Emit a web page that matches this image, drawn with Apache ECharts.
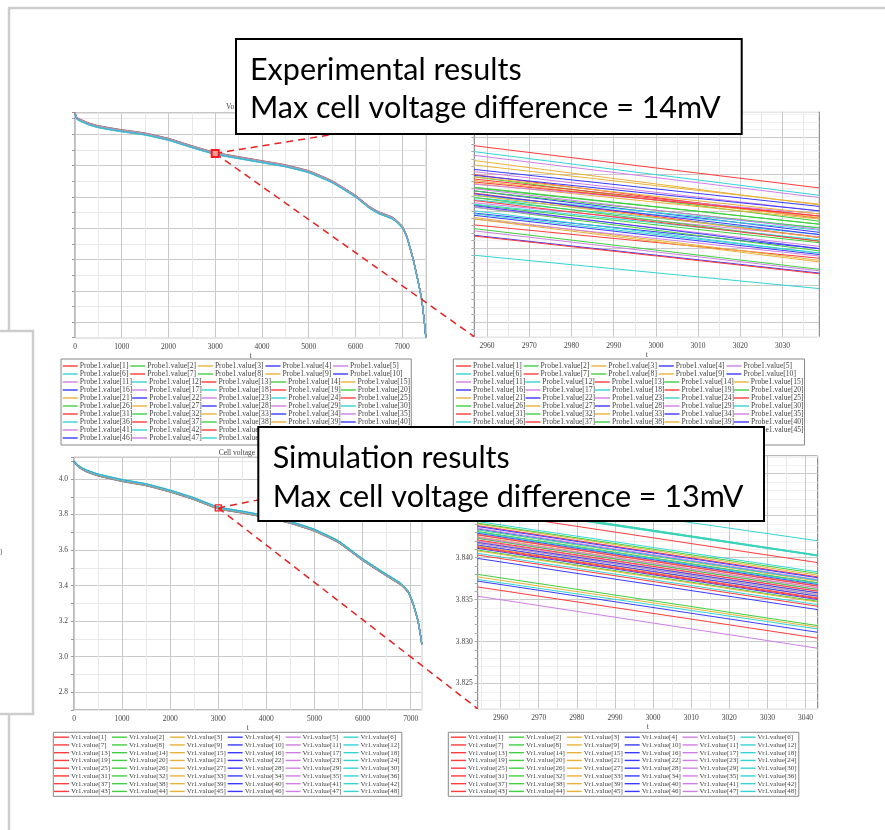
<!DOCTYPE html>
<html>
<head>
<meta charset="utf-8">
<script src="https://cdn.jsdelivr.net/npm/echarts@6/dist/echarts.min.js"></script>
<style>
  html, body { margin: 0; padding: 0; background: #fff; }
  #chart { width: 885px; height: 830px; }
</style>
</head>
<body>
<div id="chart"></div>
<script>
// ---- data ----
// experimental, whole discharge (t in s, cell voltage in V)
const expT = [0, 40, 150, 300, 500, 1000, 1500, 2000, 2500, 3000, 3500, 4000, 4500, 5000, 5500, 6000, 6300, 6500, 6800, 7000, 7100, 7240, 7350, 7420, 7470, 7505];
const expV = [4.134, 4.102, 4.085, 4.066, 4.049, 4.023, 4.002, 3.968, 3.921, 3.878, 3.851, 3.825, 3.799, 3.761, 3.697, 3.605, 3.533, 3.499, 3.463, 3.409, 3.345, 3.196, 3.047, 2.941, 2.813, 2.706];

// simulation, whole discharge
const simT = [0, 100, 250, 500, 1000, 1500, 2000, 2500, 3000, 3500, 4000, 4500, 5000, 5500, 6000, 6500, 6800, 6950, 7050, 7150, 7200, 7230];
const simV = [4.098, 4.070, 4.047, 4.023, 3.992, 3.968, 3.932, 3.889, 3.837, 3.814, 3.788, 3.756, 3.712, 3.647, 3.547, 3.459, 3.408, 3.365, 3.299, 3.205, 3.130, 3.073];

// zoom windows around t = 3000 s: value of each cell at left and right edge
const expZoomT = [2957, 3038.7];
const expZoomStart = [
  3.8888, 3.8846, 3.8868, 3.8856, 3.8875, 3.8880,
  3.8843, 3.8831, 3.8862, 3.8827, 3.8853, 3.8818,
  3.8849, 3.8808, 3.8841, 3.8797, 3.8811, 3.8821,
  3.8824, 3.8805, 3.8837, 3.8794, 3.8836, 3.8815,
  3.8781, 3.8818, 3.8791, 3.8767, 3.8789, 3.8809,
  3.8766, 3.8776, 3.8789, 3.8823, 3.8773, 3.8740,
  3.8839, 3.8827, 3.8821, 3.8848, 3.8805, 3.8800,
  3.8814, 3.8832, 3.8846, 3.8807, 3.8830, 3.8796
];
const expZoomEnd = [
  3.8831, 3.8786, 3.8808, 3.8806, 3.8818, 3.8821,
  3.8793, 3.8782, 3.8809, 3.8771, 3.8800, 3.8774,
  3.8790, 3.8757, 3.8791, 3.8749, 3.8765, 3.8777,
  3.8764, 3.8746, 3.8789, 3.8741, 3.8796, 3.8768,
  3.8736, 3.8759, 3.8733, 3.8716, 3.8739, 3.8761,
  3.8715, 3.8721, 3.8731, 3.8768, 3.8719, 3.8695,
  3.8793, 3.8777, 3.8764, 3.8800, 3.8752, 3.8743,
  3.8759, 3.8782, 3.8796, 3.8749, 3.8775, 3.8743
];

const simZoomT = [2954, 3043.2];
const simZoomStart = [
  3.8455, 3.8464, 3.8440, 3.8434, 3.8435, 3.8478,
  3.8438, 3.8463, 3.8428, 3.8411, 3.8354, 3.8462,
  3.8413, 3.8441, 3.8377, 3.8399, 3.8430, 3.8443,
  3.8412, 3.8417, 3.8433, 3.8372, 3.8427, 3.8405,
  3.8365, 3.8380, 3.8425, 3.8429, 3.8423, 3.8374,
  3.8427, 3.8431, 3.8419, 3.8418, 3.8420, 3.8464,
  3.8421, 3.8423, 3.8414, 3.8415, 3.8424, 3.8433,
  3.8403, 3.8409, 3.8408, 3.8437, 3.8417, 3.8430
];
const simZoomEnd = [
  3.8394, 3.8403, 3.8379, 3.8373, 3.8374, 3.8420,
  3.8377, 3.8402, 3.8367, 3.8350, 3.8292, 3.8402,
  3.8352, 3.8381, 3.8317, 3.8338, 3.8370, 3.8383,
  3.8351, 3.8356, 3.8372, 3.8311, 3.8366, 3.8344,
  3.8304, 3.8319, 3.8364, 3.8368, 3.8362, 3.8315,
  3.8366, 3.8370, 3.8358, 3.8358, 3.8360, 3.8403,
  3.8360, 3.8362, 3.8354, 3.8354, 3.8364, 3.8373,
  3.8342, 3.8348, 3.8347, 3.8376, 3.8356, 3.8369
];

// tick labels
const ovTimeTicks = [0, 1000, 2000, 3000, 4000, 5000, 6000, 7000];
const expZoomTimeTicks = [2960, 2970, 2980, 2990, 3000, 3010, 3020, 3030];
const simZoomTimeTicks = [2960, 2970, 2980, 2990, 3000, 3010, 3020, 3030, 3040];
const simOvVoltTicks = [2.8, 3.0, 3.2, 3.4, 3.6, 3.8, 4.0];
const simZoomVoltTicks = [3.825, 3.830, 3.835, 3.840, 3.845, 3.850];

const expNames = expZoomStart.map((v, i) => 'Probe1.value[' + (i + 1) + ']');
const simNames = simZoomStart.map((v, i) => 'Vr1.value[' + (i + 1) + ']');

const palette = ['#ff3b3b', '#3fcf3f', '#e8b23a', '#3a3aff', '#cf7fe3', '#36d3d3'];

// ---- chart ----
const chart = echarts.init(document.getElementById('chart'));

const serif = 'Liberation Serif';
const labelFont = { fontFamily: serif, fontSize: 7.5, color: '#444' };
const major = '#c9c9c9', minor = '#e8e8e8', faint = '#f1f1f1', none = 'rgba(0,0,0,0)';

const pick = (ticks, dec) => v => {
  const t = ticks.find(x => Math.abs(x - v) < 1e-7);
  return t === undefined ? '' : t.toFixed(dec);
};

const mean = a => a.reduce((s, v) => s + v, 0) / a.length;
const expMid = expZoomStart.map((v, i) => (v + expZoomEnd[i]) / 2);
const simMid = simZoomStart.map((v, i) => (v + simZoomEnd[i]) / 2);
const expMean = mean(expMid), simMean = mean(simMid);

const series = [];
function addLine(name, grid, xs, ys, i, smooth) {
  series.push({
    name: name, type: 'line', xAxisIndex: grid, yAxisIndex: grid,
    data: xs.map((x, k) => [x, ys[k]]),
    symbol: 'none', showSymbol: false, smooth: smooth ? 0.15 : false,
    color: palette[i % 6],
    lineStyle: { width: 1 },
    silent: true
  });
}
for (let i = 0; i < 48; i++) {
  addLine(expNames[i], 0, expT, expV.map(v => v + expMid[i] - expMean), i, true);
  addLine(expNames[i], 1, expZoomT, [expZoomStart[i], expZoomEnd[i]], i, false);
  addLine(simNames[i], 2, simT, simV.map(v => v + simMid[i] - simMean), i, true);
  addLine(simNames[i], 3, simZoomT, [simZoomStart[i], simZoomEnd[i]], i, false);
}

function legend(names, left, top, textWidth, fontSize, rowH, gap, padding, width) {
  return {
    data: names, left: left, top: top, width: width, orient: 'horizontal',
    icon: 'rect', itemWidth: 15, itemHeight: 1.4, itemGap: gap, padding: padding,
    borderColor: '#888', borderWidth: 1, backgroundColor: '#fff',
    selectedMode: false,
    textStyle: { fontFamily: serif, fontSize: fontSize, color: '#444', width: textWidth, height: rowH, lineHeight: rowH, padding: [0, 0, 0, -3] }
  };
}

const gridStyle = { show: true, borderColor: '#777', borderWidth: 1, backgroundColor: '#fff' };

const option = {
  animation: false,
  backgroundColor: '#fff',
  title: [
    { text: 'Voltage', left: 226, top: 103.5, padding: 0, textStyle: { fontFamily: serif, fontSize: 7.5, fontWeight: 'normal', color: '#444' } },
    { text: 'Cell voltage', left: 218.7, top: 448.7, padding: 0, textStyle: { fontFamily: serif, fontSize: 7.5, fontWeight: 'normal', color: '#444' } }
  ],
  grid: [
    Object.assign({ left: 75, top: 112.7, width: 351, height: 225 }, gridStyle),
    Object.assign({ left: 474.3, top: 111.7, width: 345, height: 225 }, gridStyle),
    Object.assign({ left: 74, top: 457.3, width: 347.7, height: 252.7 }, gridStyle),
    Object.assign({ left: 477.7, top: 456, width: 340, height: 252.7 }, gridStyle)
  ],
  xAxis: [
    {
      gridIndex: 0, type: 'value', min: 0, max: 7510, interval: 500,
      axisLine: { show: false }, axisTick: { show: false },
      axisLabel: Object.assign({ margin: 5, formatter: pick(ovTimeTicks, 0) }, labelFont),
      splitLine: { lineStyle: { color: [major, minor], width: 1 } },
      name: 't', nameLocation: 'middle', nameGap: 12.5, nameTextStyle: labelFont
    },
    {
      gridIndex: 1, type: 'value', min: 2957, max: 3038.7, interval: 1,
      axisLine: { show: false }, axisTick: { show: false },
      axisLabel: Object.assign({ margin: 5, formatter: pick(expZoomTimeTicks, 0) }, labelFont),
      splitLine: { lineStyle: { color: [none, none, none, major, none, none, none, none, minor, none], width: 1 } },
      name: 't', nameLocation: 'middle', nameGap: 12.5, nameTextStyle: labelFont
    },
    {
      gridIndex: 2, type: 'value', min: 0, max: 7230, interval: 500,
      axisLine: { show: false }, axisTick: { show: false },
      axisLabel: Object.assign({ margin: 5, formatter: pick(ovTimeTicks, 0) }, labelFont),
      splitLine: { lineStyle: { color: [major, minor], width: 1 } },
      name: 't', nameLocation: 'middle', nameGap: 12, nameTextStyle: labelFont
    },
    {
      gridIndex: 3, type: 'value', min: 2954, max: 3043.2, interval: 1,
      axisLine: { show: false }, axisTick: { show: false },
      axisLabel: Object.assign({ margin: 5, formatter: pick(simZoomTimeTicks, 0) }, labelFont),
      splitLine: { lineStyle: { color: [none, minor, none, none, none, none, major, none, none, none], width: 1 } },
      name: 't', nameLocation: 'middle', nameGap: 12, nameTextStyle: labelFont
    }
  ],
  yAxis: [
    {
      gridIndex: 0, type: 'value', min: 2.7, max: 4.138, interval: 0.1,
      axisLine: { show: false }, axisTick: { show: true, length: 3, lineStyle: { color: '#999' } },
      axisLabel: { show: false },
      splitLine: { lineStyle: { color: [minor, major], width: 1 } }
    },
    {
      gridIndex: 1, type: 'value', min: 3.863, max: 3.8934, interval: 0.001,
      axisLine: { show: false }, axisTick: { show: true, length: 3, lineStyle: { color: '#aaa' } },
      axisLabel: { show: false },
      splitLine: { lineStyle: { color: [faint, faint, major, faint, faint], width: 1 } }
    },
    {
      gridIndex: 2, type: 'value', min: 2.7, max: 4.122, interval: 0.1,
      axisLine: { show: false }, axisTick: { show: true, length: 3, lineStyle: { color: '#999' } },
      axisLabel: Object.assign({ margin: 6, formatter: pick(simOvVoltTicks, 1) }, labelFont),
      splitLine: { lineStyle: { color: [minor, major], width: 1 } }
    },
    {
      gridIndex: 3, type: 'value', min: 3.822, max: 3.8521, interval: 0.001,
      axisLine: { show: false }, axisTick: { show: true, length: 3, lineStyle: { color: '#aaa' } },
      axisLabel: Object.assign({ margin: 5, formatter: pick(simZoomVoltTicks, 3) }, labelFont),
      splitLine: { lineStyle: { color: [faint, faint, faint, major, faint], width: 1 } }
    }
  ],
  legend: [
    legend(expNames, 61, 359, 50.6, 7.6, 6.85, 0, [3, 1, 3, 1.7], 360),
    legend(expNames, 453.3, 359, 50.6, 7.6, 6.85, 0, [3, 1, 3, 2.7], 360),
    legend(simNames, 53.3, 732.3, 40.3, 7, 7.15, 0.6, [1.3, 1, 1.3, 0.7], 375),
    legend(simNames, 448.3, 732.3, 40.3, 7, 7.15, 0.6, [1.3, 1, 1.3, 2.7], 375)
  ],
  series: series
};

chart.setOption(option);

// ---- annotations: frames, zoom connectors, text boxes ----
const mExp = chart.convertToPixel({ gridIndex: 0 }, [3000, expV[expT.indexOf(3000)]]);
const mSim = chart.convertToPixel({ gridIndex: 2 }, [3000, simV[simT.indexOf(3000)]]);
const zExpTop = chart.convertToPixel({ gridIndex: 1 }, [expZoomT[0], 3.8934]);
const zExpBot = chart.convertToPixel({ gridIndex: 1 }, [expZoomT[0], 3.863]);
const zSimTop = chart.convertToPixel({ gridIndex: 3 }, [simZoomT[0], 3.8521]);
const zSimBot = chart.convertToPixel({ gridIndex: 3 }, [simZoomT[0], 3.822]);

const frame = { stroke: '#cdcdcd', lineWidth: 2.5 };
const dash = { stroke: '#e52222', lineWidth: 1.5, lineDash: [7, 5] };
const boxFont = '30.5px Lato';

function textBox(x, y, w, h, lines, tx, ty) {
  return [
    { type: 'rect', z: 100, shape: { x: x, y: y, width: w, height: h }, style: { fill: '#fff', stroke: '#000', lineWidth: 2 } },
    { type: 'text', z: 101, style: { text: lines[0], x: tx, y: ty[0], font: boxFont, fill: '#000', verticalAlign: 'middle' } },
    { type: 'text', z: 101, style: { text: lines[1], x: tx, y: ty[1], font: boxFont, fill: '#000', verticalAlign: 'middle' } }
  ];
}

chart.setOption({
  graphic: [
    { type: 'line', z: -5, shape: { x1: 8, y1: 8, x2: 885, y2: 8 }, style: frame },
    { type: 'line', z: -5, shape: { x1: 9, y1: 8, x2: 9, y2: 830 }, style: frame },
    { type: 'rect', z: -4, shape: { x: -2, y: 331, width: 35, height: 383 }, style: Object.assign({ fill: '#fff' }, frame) },
    { type: 'text', z: -3, style: { text: '0', x: -1.5, y: 553, font: '7.5px "Liberation Serif"', fill: '#555', verticalAlign: 'middle' } },

    { type: 'line', z: 50, shape: { x1: mExp[0], y1: mExp[1], x2: zExpTop[0], y2: zExpTop[1] }, style: dash },
    { type: 'line', z: 50, shape: { x1: mExp[0], y1: mExp[1], x2: zExpBot[0], y2: zExpBot[1] }, style: dash },
    { type: 'rect', z: 51, shape: { x: mExp[0] - 3.5, y: mExp[1] - 3.5, width: 7, height: 7 }, style: { fill: '#ff9a9a', stroke: '#f01e1e', lineWidth: 2 } },
    { type: 'line', z: 50, shape: { x1: mSim[0], y1: mSim[1], x2: zSimTop[0], y2: zSimTop[1] }, style: dash },
    { type: 'line', z: 50, shape: { x1: mSim[0], y1: mSim[1], x2: zSimBot[0], y2: zSimBot[1] }, style: dash },
    { type: 'rect', z: 51, shape: { x: mSim[0] - 3, y: mSim[1] - 3, width: 6, height: 6 }, style: { fill: 'none', stroke: '#f01e1e', lineWidth: 1.3 } }
  ]
    .concat(textBox(236, 39, 505.7, 95, ['Experimental results', 'Max cell voltage difference = 14mV'], 250, [70.2, 108.3]))
    .concat(textBox(258.3, 427, 505.7, 94, ['Simulation results', 'Max cell voltage difference = 13mV'], 272.7, [457.7, 497.3]))
});
</script>
</body>
</html>
